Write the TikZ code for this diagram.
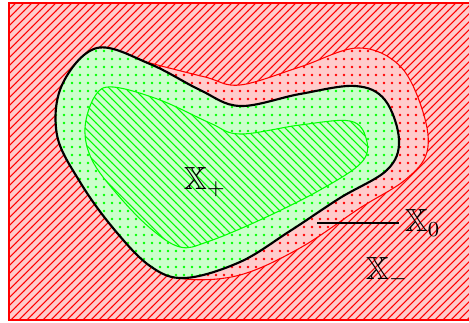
\documentclass[tikz,border=0pt]{standalone}
\usepackage{amssymb}
\usepackage{tikz}
\usetikzlibrary{patterns}

\begin{document}
\begin{tikzpicture}[
  x=0.375pt, y=-0.375pt,
  region/.style={preaction={fill=#1!20}},
  lbl/.style={font=\large, inner sep=2pt},
]
\useasboundingbox (0,0) rectangle (469,323);
% sets
\draw[red, region=red, pattern=north east lines, pattern color=red]
  (9,3) rectangle (472,320);
\draw[red, region=red, pattern=dots, pattern color=red]
  plot[smooth cycle, tension=0.6] coordinates {
    (97,48) (150,63) (205,77) (240,85) (300,67) (358,48) (400,66)
    (423,112) (427,152) (405,180) (360,208) (300,248) (240,275)
    (185,279) (150,266) (113,228) (80,182) (57,135) (62,85)};
\draw[thick, region=green, pattern=dots, pattern color=green]
  plot[smooth cycle, tension=0.6] coordinates {
    (97,48) (150,64) (200,90) (240,106) (300,94) (355,86) (385,100)
    (399,140) (387,170) (340,198) (290,231) (240,262) (185,278)
    (150,266) (113,228) (80,182) (57,135) (62,85)};
\draw[green, region=green, pattern=north west lines, pattern color=green]
  plot[smooth cycle, tension=0.6] coordinates {
    (113,87) (160,100) (210,123) (240,134) (300,125) (350,121)
    (366,138) (362,162) (320,190) (260,220) (207,242) (180,247)
    (150,228) (117,194) (92,160) (85,128) (95,96)};
% labels
\node[lbl] (xp) at (205,182) {$\mathbb{X}_+$};
\node[lbl, anchor=west] (x0) at (399,223) {$\mathbb{X}_0$};
\node[lbl] (xm) at (387,272) {$\mathbb{X}_-$};
\coordinate (p0) at (317,223);
\draw (p0) -- (p0 -| x0.west);
\end{tikzpicture}
\end{document}
